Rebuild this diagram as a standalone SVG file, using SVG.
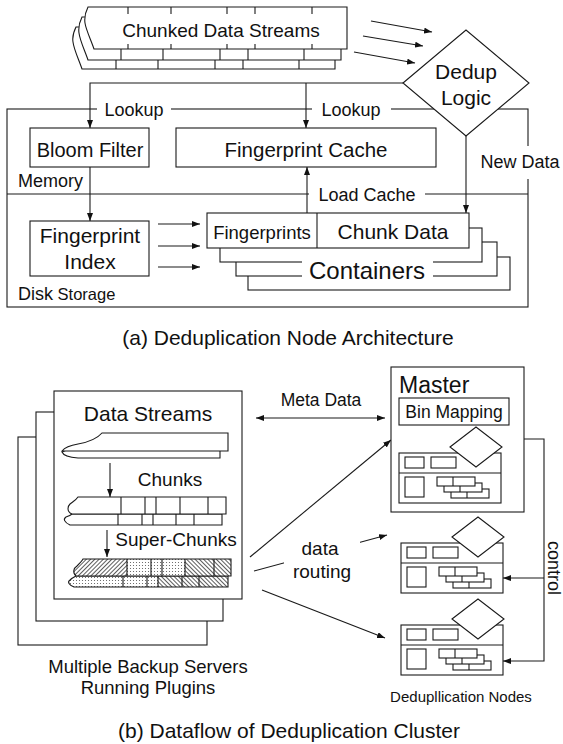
<svg xmlns="http://www.w3.org/2000/svg" width="563" height="744" viewBox="0 0 563 744">
<style>
text{font-family:"Liberation Sans",Arial,sans-serif;fill:#111}
.s{fill:none;stroke:#1a1a1a;stroke-width:1.1}
.w{fill:#fff;stroke:#1a1a1a;stroke-width:1.1}
.c{stroke:#1a1a1a;stroke-width:1.1;fill:none}
.bg{fill:#fff;stroke:none}
.m{text-anchor:middle}
</style>
<defs>
<marker id="ah" viewBox="0 0 10 10" refX="10" refY="5" markerWidth="8" markerHeight="6" preserveAspectRatio="none" orient="auto-start-reverse" markerUnits="userSpaceOnUse"><path d="M0,0 L10,5 L0,10 z" fill="#111"/></marker>
<pattern id="hF" patternUnits="userSpaceOnUse" width="3" height="3" patternTransform="rotate(45)"><rect width="3" height="3" fill="#fff"/><line x1="0.5" y1="0" x2="0.5" y2="3" stroke="#333" stroke-width="0.8"/></pattern>
<pattern id="hB" patternUnits="userSpaceOnUse" width="3" height="3" patternTransform="rotate(-45)"><rect width="3" height="3" fill="#fff"/><line x1="0.5" y1="0" x2="0.5" y2="3" stroke="#333" stroke-width="0.8"/></pattern>
<pattern id="dt" patternUnits="userSpaceOnUse" width="3" height="3"><rect width="3" height="3" fill="#fff"/><circle cx="1.5" cy="1.5" r="0.55" fill="#555"/></pattern>
<g id="nodeTpl">
<rect x="0" y="0" width="102" height="50" class="w"/>
<line x1="0" y1="20" x2="102" y2="20" class="c"/>
<rect x="6" y="4" width="19" height="11" class="w"/>
<rect x="32" y="4" width="25" height="11" class="w"/>
<rect x="6" y="24" width="19" height="20" class="w"/>
<rect x="52" y="36" width="38" height="9" class="w"/><line x1="68" y1="36" x2="68" y2="45" class="c"/>
<rect x="45" y="30" width="38" height="9" class="w"/><line x1="61" y1="30" x2="61" y2="39" class="c"/>
<rect x="38" y="24" width="38" height="9" class="w"/><line x1="54" y1="24" x2="54" y2="33" class="c"/>
<polygon points="51,-6 77,-26 103,-6 77,14" class="w"/>
</g>
</defs>

<!-- ===== (a) ===== -->
<g id="connectors-a">
<rect x="7" y="109" width="521" height="198" class="s"/>
<line x1="7" y1="194" x2="528" y2="194" class="c"/>
<polyline points="90,128 90,83 403,83" class="c" marker-start="url(#ah)"/>
<line x1="306" y1="83" x2="306" y2="128" class="c" marker-end="url(#ah)"/>
<line x1="90" y1="167" x2="90" y2="221" class="c" marker-end="url(#ah)"/>
<line x1="307" y1="213" x2="307" y2="167" class="c" marker-end="url(#ah)"/>
<line x1="466" y1="136" x2="466" y2="213" class="c" marker-end="url(#ah)"/>
<line x1="158" y1="224" x2="200" y2="224" class="c" marker-end="url(#ah)"/>
<line x1="158" y1="246" x2="200" y2="246" class="c" marker-end="url(#ah)"/>
<line x1="158" y1="267" x2="200" y2="267" class="c" marker-end="url(#ah)"/>
<line x1="371" y1="21" x2="432" y2="32" class="c" marker-end="url(#ah)"/>
<line x1="363" y1="36" x2="423" y2="46" class="c" marker-end="url(#ah)"/>
<line x1="354" y1="52" x2="415" y2="63" class="c" marker-end="url(#ah)"/>
<rect class="bg" x="97" y="100" width="74" height="18"/>
<text class="m" x="134" y="116" font-size="18">Lookup</text>
<rect class="bg" x="312" y="100" width="79" height="18"/>
<text class="m" x="351" y="116" font-size="18">Lookup</text>
<rect class="bg" x="309" y="185" width="116" height="18"/>
<text class="m" x="367" y="201" font-size="18">Load Cache</text>
<rect class="bg" x="478" y="146" width="85" height="33"/>
<text class="m" x="520" y="168" font-size="18">New Data</text>
<text x="18" y="187" font-size="18">Memory</text>
<text x="18" y="300"><tspan font-size="18">Disk</tspan><tspan font-size="16.5"> Storage</tspan></text>
</g>

<g id="chunked-streams">
<path d="M76,27 L335,27 L335,69 L82,69 C79,60 74,50 73,42 C72,36 74,31 76,27 Z" class="w"/>
<path d="M116,60V69M158,60V69M215,60V69M243,60V69M299,60V69" class="c"/>
<path d="M82,17 L341,17 L341,60 L88,60 C85,51 80,41 79,33 C78,26 80,21 82,17 Z" class="w"/>
<path d="M121,49V60M163,49V60M220,49V60M248,49V60M304,49V60" class="c"/>
<path d="M88,7 L347,7 L347,49 L94,49 C91,40 86,30 85,23 C84,16 86,11 88,7 Z" class="w"/>
<path d="M128,7V14M171,7V14M227,7V14M255,7V14M312,7V14M128,44V49M171,44V49M227,44V49M255,44V49M312,44V49" class="c"/>
<text class="m" x="221" y="37" font-size="19">Chunked Data Streams</text>
</g>

<g id="dedup-logic">
<polygon points="403,83 466,30 529,83 466,136" class="w"/>
<text class="m" x="466" y="79" font-size="21">Dedup</text>
<text class="m" x="466" y="105" font-size="21">Logic</text>
</g>

<g id="bloom-filter">
<rect x="30" y="128" width="119" height="39" class="w"/>
<text class="m" x="90" y="157" font-size="20">Bloom Filter</text>
</g>

<g id="fingerprint-cache">
<rect x="176" y="128" width="260" height="39" class="w"/>
<text class="m" x="306" y="157" font-size="20.5">Fingerprint Cache</text>
</g>

<g id="fingerprint-index">
<rect x="30" y="221" width="119" height="55" class="w"/>
<text class="m" x="90" y="243" font-size="21">Fingerprint</text>
<text class="m" x="90" y="269" font-size="21">Index</text>
</g>

<g id="containers">
<rect x="248" y="257" width="262" height="33" class="w"/>
<rect x="236" y="242" width="261" height="34" class="w"/>
<rect x="220" y="228" width="262" height="34" class="w"/>
<rect x="207" y="213" width="262" height="35" class="w"/>
<line x1="317" y1="213" x2="317" y2="248" class="c"/>
<text class="m" x="262" y="239" font-size="18.5">Fingerprints</text>
<text class="m" x="393" y="239" font-size="21">Chunk Data</text>
<rect class="bg" x="302" y="256" width="131" height="27"/>
<text class="m" x="367" y="279" font-size="24">Containers</text>
</g>

<text class="m" x="288" y="345" font-size="21">(a) Deduplication Node Architecture</text>

<!-- ===== (b) ===== -->
<g id="backup-servers">
<rect x="18" y="437" width="189" height="208" class="w"/>
<rect x="36" y="412" width="187" height="209" class="w"/>
<rect x="54" y="391" width="188" height="208" class="w"/>
<text class="m" x="148" y="421" font-size="21">Data Streams</text>
<path d="M90,445 L220,445 L220,458 L78,458 Q64,457 62,452 Q70,448 90,445 Z" class="w"/>
<path d="M102,433 L228,433 L228,451 L62,451 Q66,446 78,444 Q95,441 102,433 Z" class="w"/>
<line x1="110" y1="463" x2="110" y2="497" class="c" marker-end="url(#ah)"/>
<text class="m" x="170" y="486" font-size="19">Chunks</text>
<path d="M72,514 L222,514 L222,525 L70,525 C64,522 63,519 66,517 C69,516 71,515 72,514 Z" class="w"/>
<path d="M118,514V525M142,514V525M153,514V525M176,514V525M194,514V525" class="c"/>
<path d="M78,497 L226,497 L226,514 L72,514 C66,511 68,506 70,504 C74,501 76,500 78,497 Z" class="w"/>
<path d="M121,497V514M145,497V514M156,497V514M180,497V514M208,497V514" class="c"/>
<line x1="107" y1="530" x2="107" y2="557" class="c" marker-end="url(#ah)"/>
<text class="m" x="176" y="546" font-size="19">Super-Chunks</text>
<path d="M76,576 L228,576 L228,587 L74,587 C69,585 67,582 70,580 C72,578 74,577 76,576 Z" fill="url(#dt)"/>
<rect x="158" y="576" width="70" height="11" fill="url(#hB)"/>
<path d="M76,576 L228,576 L228,587 L74,587 C69,585 67,582 70,580 C72,578 74,577 76,576 Z" class="s"/>
<path d="M123,576V587M147,576V587M158,576V587M182,576V587M199,576V587" class="c"/>
<path d="M83,559 L231,559 L231,576 L76,576 C72,572 74,568 77,566 C80,563 82,561 83,559 Z" fill="url(#hF)"/>
<rect x="127" y="559" width="58" height="17" fill="url(#dt)"/>
<rect x="185" y="559" width="46" height="17" fill="url(#hB)"/>
<path d="M83,559 L231,559 L231,576 L76,576 C72,572 74,568 77,566 C80,563 82,561 83,559 Z" class="s"/>
<path d="M127,559V576M151,559V576M162,559V576M185,559V576M214,559V576" class="c"/>
</g>
<text class="m" x="148" y="673" font-size="18.5">Multiple Backup Servers</text>
<text class="m" x="148" y="694" font-size="18.5">Running Plugins</text>

<g id="connectors-b">
<line x1="256" y1="418" x2="385" y2="418" class="c" marker-start="url(#ah)" marker-end="url(#ah)"/>
<text class="m" x="321" y="406" font-size="17.5">Meta Data</text>
<line x1="250" y1="557" x2="391" y2="440" class="c" marker-end="url(#ah)"/>
<line x1="254" y1="571" x2="387" y2="535" class="c" marker-end="url(#ah)"/>
<line x1="262" y1="590" x2="385" y2="638" class="c" marker-end="url(#ah)"/>
<rect class="bg" x="284" y="538" width="76" height="44"/>
<text class="m" x="320" y="555" font-size="19">data</text>
<text class="m" x="322" y="578" font-size="19">routing</text>
<polyline points="524,439 544,439 544,661 503,661" class="c" marker-end="url(#ah)"/>
<line x1="544" y1="578" x2="503" y2="578" class="c" marker-end="url(#ah)"/>
<text x="548" y="568" font-size="18" class="m" transform="rotate(90 548 568)">control</text>
</g>

<g id="master">
<rect x="391" y="367" width="133" height="145" class="w"/>
<text x="399" y="393" font-size="23">Master</text>
<rect x="399" y="398" width="110" height="27" class="w"/>
<text class="m" x="454" y="418" font-size="17.5">Bin Mapping</text>
<use href="#nodeTpl" transform="translate(399,453)"/>
</g>

<g id="dedup-node-1">
<use href="#nodeTpl" transform="translate(401,543)"/>
</g>

<g id="dedup-node-2">
<use href="#nodeTpl" transform="translate(401,625)"/>
</g>

<text class="m" x="461" y="702" font-size="15">Dedupllication Nodes</text>
<text class="m" x="289" y="738" font-size="21">(b) Dataflow of Deduplication Cluster</text>
</svg>
